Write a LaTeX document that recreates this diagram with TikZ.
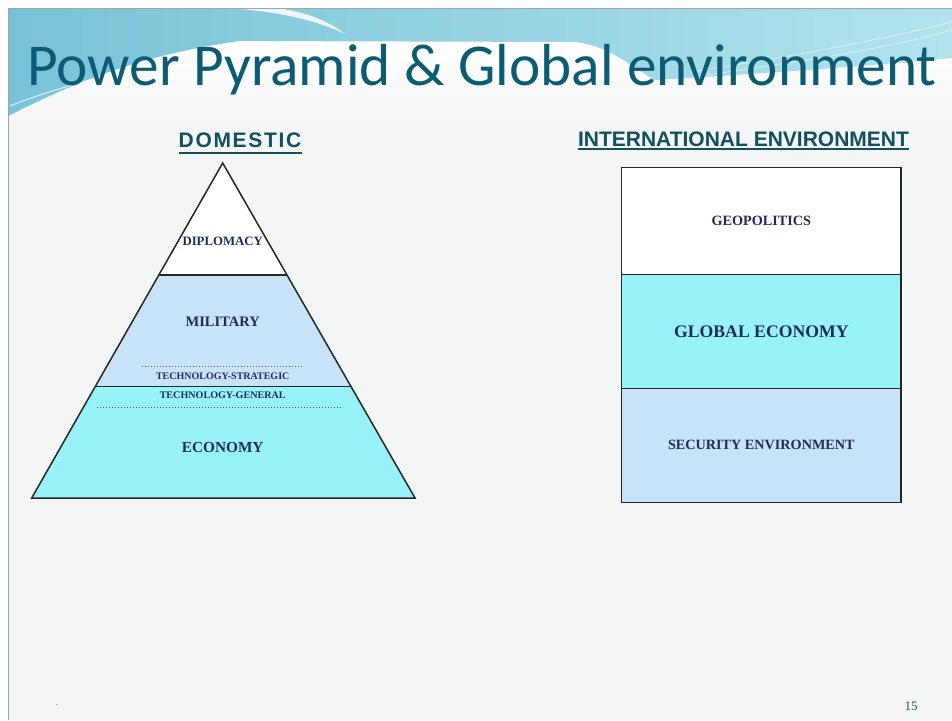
\documentclass[tikz,border=0pt]{standalone}
\usepackage{fontspec}
\setmainfont{Liberation Serif}
\newfontfamily\titlefont{Carlito}
\newfontfamily\headfont{Liberation Sans}
\usetikzlibrary{calc,positioning}
\definecolor{titlec}{HTML}{0B5C72}
\definecolor{headc}{HTML}{134F5E}
\definecolor{labelc}{HTML}{1E2C5C}
\definecolor{edgec}{HTML}{262626}
\definecolor{dotc}{HTML}{5A5A5A}
\definecolor{milfill}{HTML}{C8E2F8}
\definecolor{ecofill}{HTML}{98F3F8}
\definecolor{slidebg}{HTML}{F4F5F5}
\definecolor{bannerl}{HTML}{78C2D7}
\definecolor{bannerr}{HTML}{B2E3EC}
\definecolor{framec}{HTML}{A0A4A8}

\begin{document}
\begin{tikzpicture}[x=1pt, y=-1pt,
  layer/.style={draw=edgec, line width=1.5pt},
  lbl/.style={text=labelc, inner sep=0pt},
  head/.style={font=\headfont\bfseries\fontsize{21}{25}\selectfont, text=headc, inner sep=0pt, anchor=base},
  dots/.style={draw=dotc, line width=0.8pt, dash pattern=on 0.8pt off 2.2pt},
  box/.style={layer, minimum width=279.3pt, inner sep=0pt, outer sep=0pt}]
\useasboundingbox (0,0) rectangle (952,720);
\fill[white] (0,0) rectangle (952,720);
\fill[slidebg] (8,8) rectangle (952,720);
% banner
\shade[top color=white, bottom color=slidebg] (8,40) rectangle (952,125);
\shade[left color=bannerl, right color=bannerr] (8,8) -- (952,8) -- (952,58) .. controls (850,68) and (720,76) .. (655,80) .. controls (630,66) and (610,46) .. (575,42) -- (240,41) .. controls (130,56) and (60,90) .. (8,116) -- cycle;
\fill[white, opacity=0.85] (228,8) .. controls (285,12) and (320,22) .. (345,34) .. controls (325,18) and (295,9) .. (270,8) -- cycle;
\draw[white, opacity=0.7, line width=0.6pt] (690,72) .. controls (800,55) and (880,40) .. (952,22);
\draw[white, opacity=0.7, line width=0.6pt] (700,76) .. controls (810,60) and (890,48) .. (952,30);
\draw[white, opacity=0.8, line width=1pt] (10,106) .. controls (50,90) and (100,76) .. (140,70);
\draw[framec, line width=0.8pt] (8,720) -- (8,8) -- (952,8);
\node[anchor=base west, inner sep=0pt, text=titlec, font=\titlefont\fontsize{59.3}{66}\selectfont] (title) at (27,85) {Power Pyramid \& Global environment};

% domestic pyramid
\node[head, font=\headfont\bfseries\fontsize{21}{25}\selectfont\addfontfeature{LetterSpace=8}] (domestic) at (240,147.3) {DOMESTIC};
\draw[headc, line width=2pt] ($(domestic.base west)+(0,5.4)$) -- ($(domestic.base east)+(0,5.4)$);
\coordinate (apex) at (222.7,163);
\coordinate (bl) at (31.7,498);
\coordinate (br) at (415,498);
\coordinate (dl) at ($(apex)!0.3343!(bl)$);
\coordinate (dr) at ($(apex)!0.3343!(br)$);
\coordinate (ml) at ($(apex)!0.6678!(bl)$);
\coordinate (mr) at ($(apex)!0.6678!(br)$);
\fill[ecofill] (ml) -- (mr) -- (br) -- (bl) -- cycle;
\fill[milfill] (dl) -- (dr) -- (mr) -- (ml) -- cycle;
\fill[white] (apex) -- (dr) -- (dl) -- cycle;
\draw[layer] (apex) -- (br) -- (bl) -- cycle;
\draw[layer] (dl) -- (dr);
\draw[layer] (ml) -- (mr);
\draw[dots] (141.7,366.3) -- (303.3,366.3);
\draw[dots] (97.3,407.3) -- (343.3,407.3);
\node[lbl, font=\bfseries\fontsize{12.8}{15}\selectfont] (dip) at (222.7,241) {DIPLOMACY};
\node[lbl, font=\bfseries\fontsize{14.5}{17}\selectfont] (mil) at (222.7,322) {MILITARY};
\node[lbl, font=\bfseries\fontsize{10}{12}\selectfont] (techs) at (222.7,376.7) {TECHNOLOGY-STRATEGIC};
\node[lbl, font=\bfseries\fontsize{10.1}{12}\selectfont] (techg) at (222.7,395.3) {TECHNOLOGY-GENERAL};
\node[lbl, font=\bfseries\fontsize{15.3}{18}\selectfont] (eco) at (222.7,448) {ECONOMY};

% international boxes
\node[head] (intl) at (743.5,146) {INTERNATIONAL ENVIRONMENT};
\draw[headc, line width=2pt] ($(intl.base west)+(0,3.3)$) -- ($(intl.base east)+(0,3.3)$);
\node[box, fill=white, minimum height=106.6pt, text=labelc, font=\bfseries\fontsize{14.2}{17}\selectfont] (geo) at (761.35,221) {GEOPOLITICS};
\node[box, fill=ecofill, minimum height=114pt, text=labelc, font=\bfseries\fontsize{17.7}{21}\selectfont, below=0pt of geo] (glob) {GLOBAL ECONOMY};
\node[box, fill=milfill, minimum height=114pt, text=labelc, font=\bfseries\fontsize{14.2}{17}\selectfont, below=0pt of glob] (sec) {SECURITY ENVIRONMENT};

\node[text=titlec, font=\fontsize{9}{10}\selectfont, inner sep=0pt] (dot) at (57,705) {.};
\node[text=titlec, font=\fontsize{13}{15}\selectfont, inner sep=0pt] (pagenum) at (911,706) {15};
\end{tikzpicture}
\end{document}
